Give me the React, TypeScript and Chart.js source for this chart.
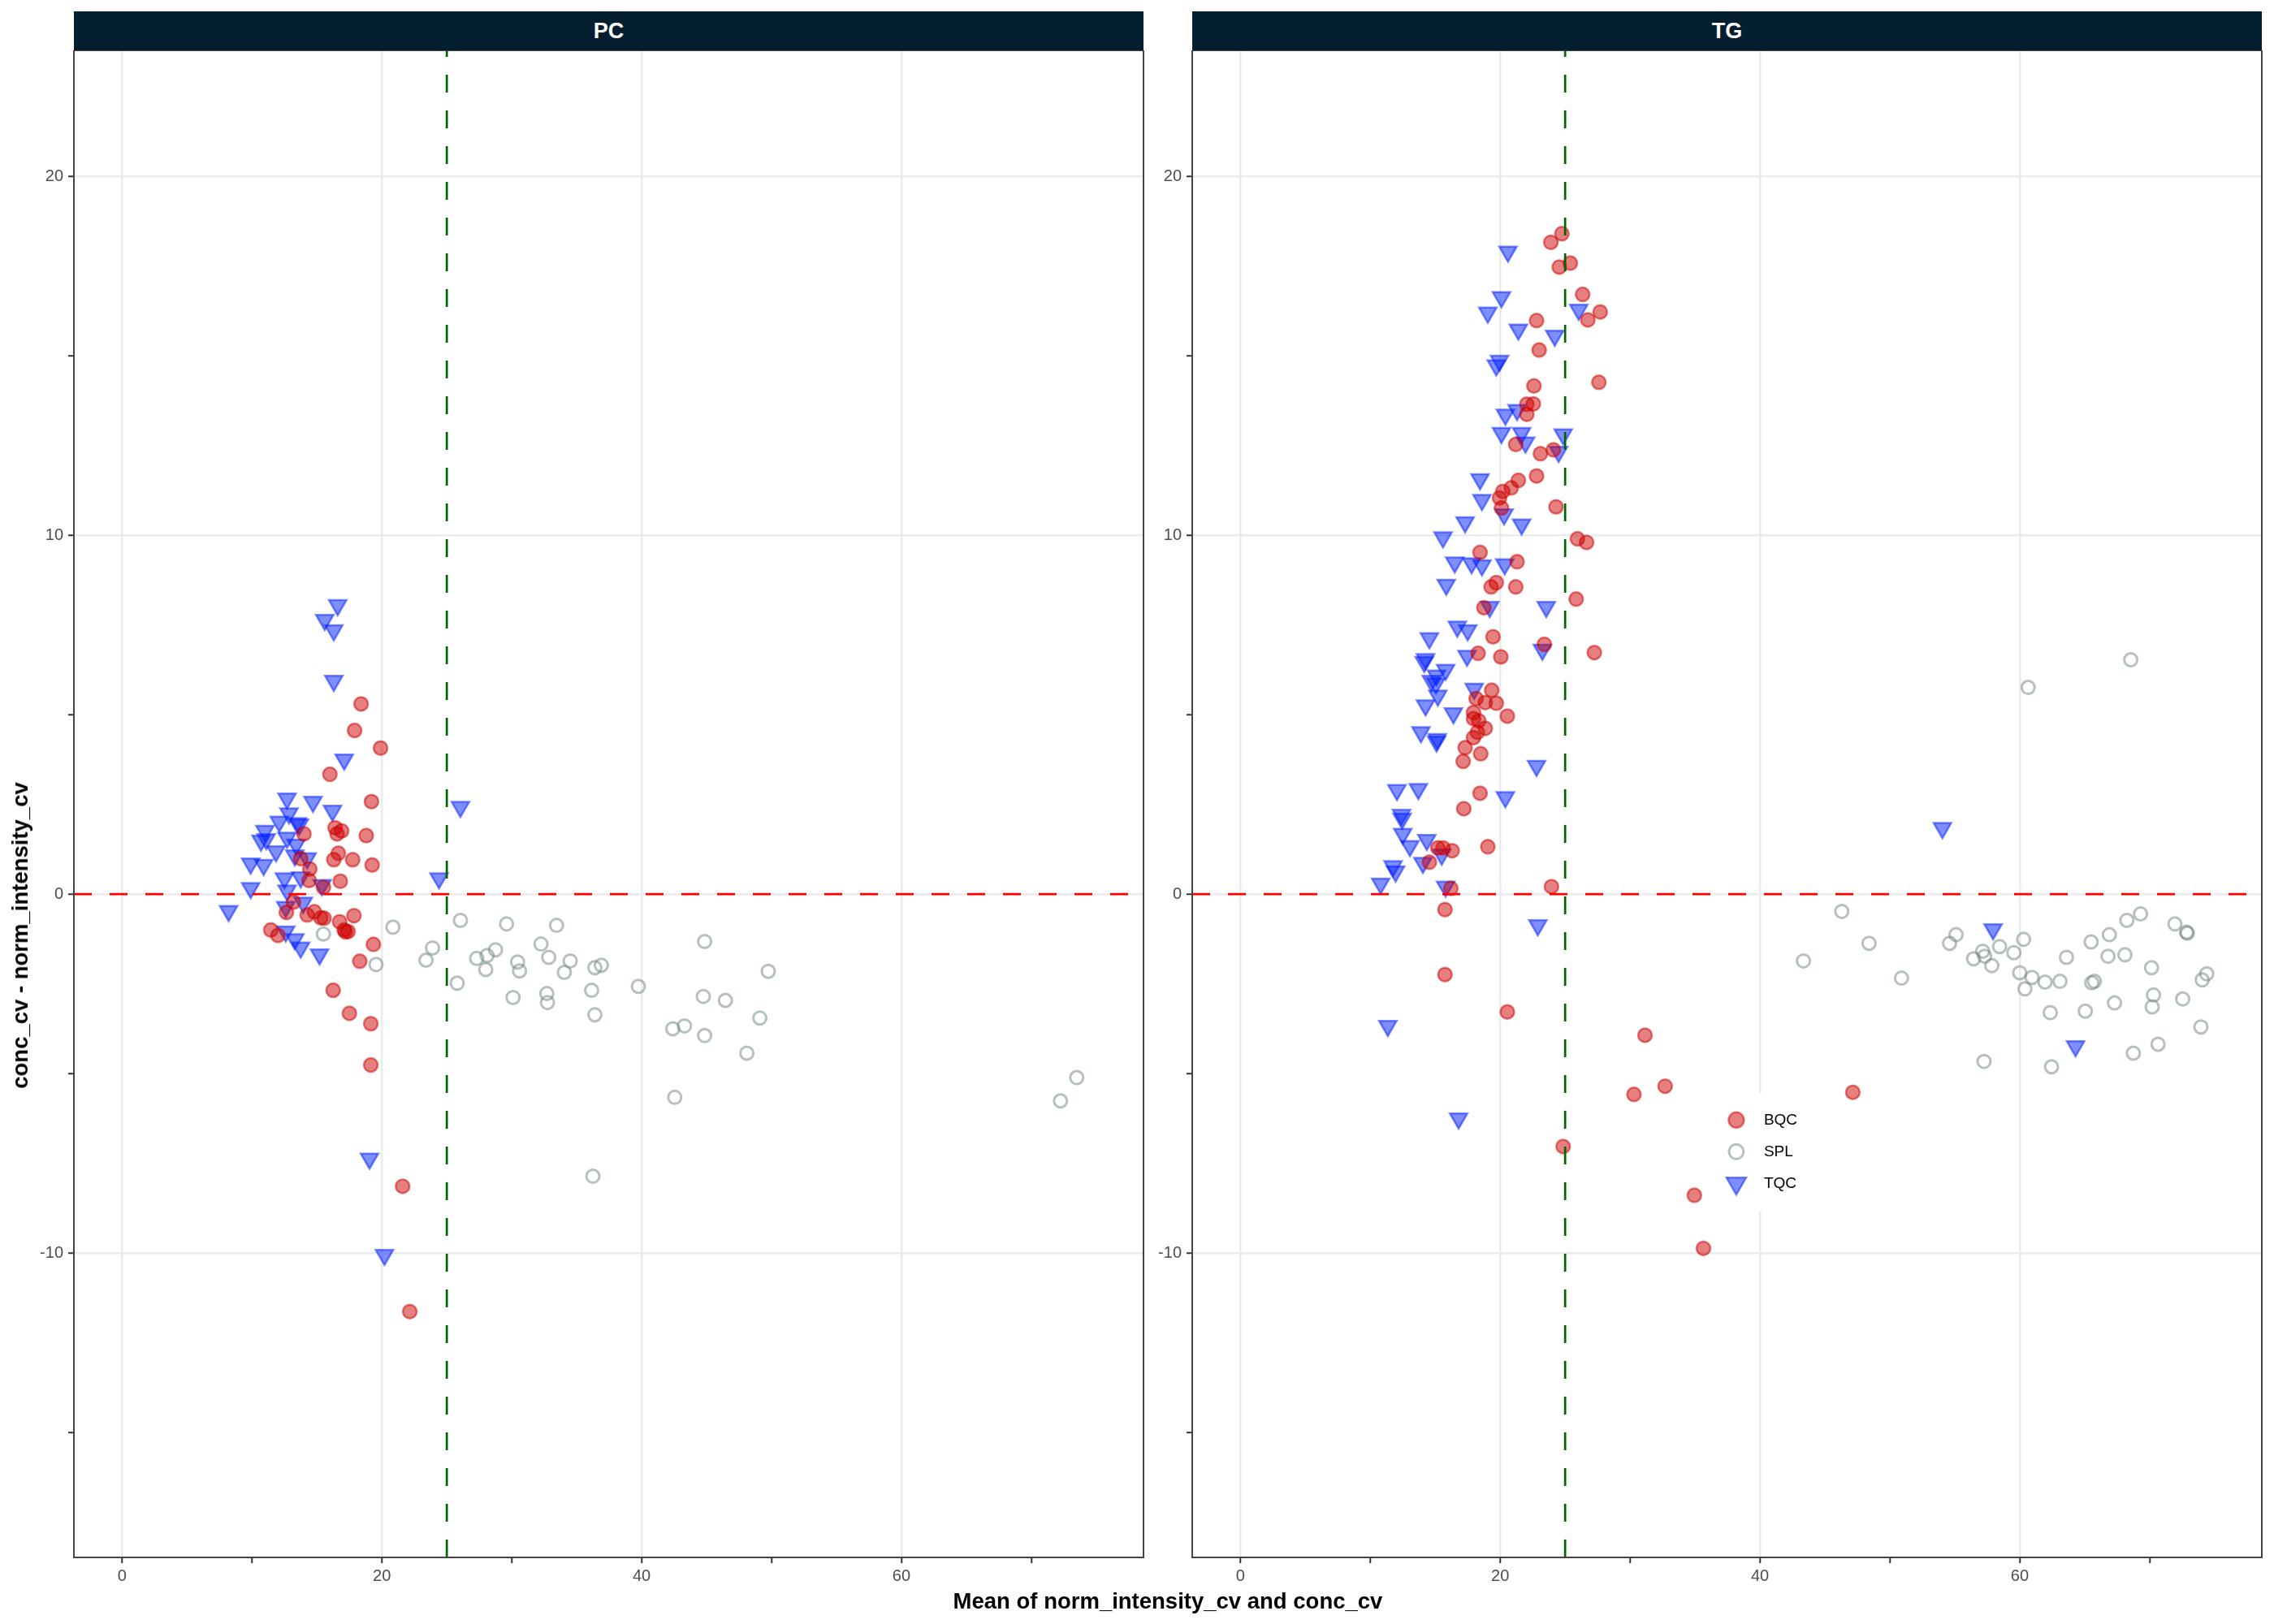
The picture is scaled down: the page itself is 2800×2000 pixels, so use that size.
import { useEffect, useRef } from 'react'
import { Chart, registerables } from 'chart.js'
import { drawPoint } from 'chart.js/helpers'

Chart.register(...registerables)

// axis limits and ticks (same for both facets)
const X_MIN = -3.71
const X_MAX = 78.64
const Y_MIN = -18.48
const Y_MAX = 23.51
const X_TICKS = [0, 10, 20, 30, 40, 50, 60, 70]
const X_MAJOR = [0, 20, 40, 60]
const Y_TICKS = [-15, -10, -5, 0, 5, 10, 15, 20]
const Y_MAJOR = [-10, 0, 10, 20]

// reference lines
const H_LINE_Y = 0
const V_LINE_X = 25

const GROUPS = ['BQC', 'SPL', 'TQC'] as const
type Group = typeof GROUPS[number]
type Pt = [number, number]

// ---- PC facet ----
const PC_BQC: Pt[] = [
  [18.4, 5.3], [17.9, 4.56], [19.9, 4.07], [16.0, 3.34], [19.2, 2.58], [14.0, 1.68], [16.4, 1.85],
  [16.9, 1.76], [16.55, 1.68], [18.8, 1.63], [16.65, 1.14], [16.3, 0.96], [17.75, 0.96], [19.25, 0.81],
  [13.75, 0.99], [14.45, 0.7], [14.4, 0.38], [16.8, 0.36], [15.5, 0.19], [13.2, -0.22], [12.65, -0.51],
  [14.25, -0.58], [14.8, -0.49], [15.3, -0.66], [15.55, -0.67], [17.85, -0.6], [16.75, -0.77],
  [17.1, -1.0], [17.2, -1.05], [17.4, -1.04], [11.45, -1.0], [12.0, -1.15], [19.35, -1.4], [18.3, -1.87],
  [16.25, -2.68], [17.5, -3.32], [19.15, -3.61], [19.15, -4.76], [21.6, -8.14], [22.15, -11.63],
]
const PC_SPL: Pt[] = [
  [15.5, -1.11], [20.85, -0.92], [19.55, -1.96], [26.05, -0.73], [23.9, -1.5], [23.4, -1.84],
  [25.8, -2.48], [27.3, -1.79], [28.1, -1.71], [28.75, -1.55], [28.0, -2.1], [29.6, -0.83],
  [33.45, -0.87], [32.25, -1.39], [30.45, -1.89], [30.6, -2.14], [32.85, -1.76], [34.5, -1.86],
  [34.05, -2.18], [36.4, -2.05], [36.9, -1.98], [30.1, -2.88], [32.7, -2.77], [32.75, -3.02],
  [36.15, -2.68], [36.4, -3.36], [39.75, -2.57], [44.85, -1.32], [49.75, -2.15], [44.75, -2.85],
  [46.45, -2.96], [49.1, -3.45], [42.4, -3.75], [43.3, -3.67], [44.85, -3.94], [48.1, -4.43],
  [42.55, -5.66], [36.25, -7.86], [73.5, -5.11], [72.25, -5.76],
]
const PC_TQC: Pt[] = [
  [16.6, 8.05], [15.6, 7.64], [16.3, 7.35], [16.3, 5.94], [17.1, 3.75], [12.7, 2.66], [14.7, 2.57],
  [16.2, 2.32], [12.85, 2.25], [12.1, 2.02], [13.5, 1.98], [13.65, 1.94], [11.0, 1.76], [10.7, 1.49],
  [11.1, 1.53], [12.7, 1.57], [11.85, 1.19], [13.4, 1.38], [13.3, 1.08], [14.25, 1.0], [9.9, 0.85],
  [10.9, 0.81], [12.5, 0.44], [13.75, 0.47], [15.4, 0.25], [9.9, 0.17], [12.7, 0.1], [24.4, 0.44],
  [26.05, 2.43], [8.2, -0.47], [12.6, -0.36], [13.95, -0.24], [12.6, -1.04], [13.3, -1.26],
  [13.75, -1.49], [15.2, -1.68], [19.05, -7.37], [20.2, -10.05],
]

// ---- TG facet ----
const TG_BQC: Pt[] = [
  [24.75, 18.4], [23.9, 18.16], [25.4, 17.58], [24.55, 17.47], [26.35, 16.71], [27.7, 16.22],
  [26.75, 16.0], [22.8, 15.98], [23.0, 15.16], [27.6, 14.26], [22.6, 14.16], [22.55, 13.66],
  [22.05, 13.65], [22.05, 13.37], [21.2, 12.53], [23.1, 12.27], [24.1, 12.38], [21.4, 11.53],
  [22.8, 11.65], [20.85, 11.32], [20.2, 11.22], [19.95, 11.04], [20.1, 10.76], [24.3, 10.79],
  [25.95, 9.9], [26.65, 9.8], [18.45, 9.52], [21.3, 9.26], [19.7, 8.68], [19.3, 8.56], [21.2, 8.56],
  [25.85, 8.22], [18.75, 7.98], [19.45, 7.17], [23.4, 6.96], [27.25, 6.73], [18.3, 6.71], [20.05, 6.61],
  [19.35, 5.68], [18.15, 5.45], [18.85, 5.34], [19.7, 5.32], [17.95, 5.06], [20.55, 4.96],
  [17.95, 4.89], [18.35, 4.83], [18.85, 4.62], [18.25, 4.51], [17.95, 4.36], [17.3, 4.08],
  [18.5, 3.91], [17.15, 3.7], [18.45, 2.81], [17.2, 2.38], [15.2, 1.29], [15.6, 1.29], [16.3, 1.21],
  [19.05, 1.32], [14.55, 0.89], [16.2, 0.16], [23.95, 0.21], [15.75, -0.43], [15.75, -2.24],
  [20.55, -3.28], [24.85, -7.03], [31.15, -3.93], [32.7, -5.35], [30.3, -5.58], [47.15, -5.52],
  [34.95, -8.39], [35.65, -9.87],
]
const TG_SPL: Pt[] = [
  [46.3, -0.48], [48.4, -1.37], [43.35, -1.86], [50.9, -2.34], [54.6, -1.37], [55.1, -1.13],
  [58.45, -1.46], [57.15, -1.59], [56.45, -1.8], [57.3, -1.73], [57.85, -1.99], [57.25, -4.66],
  [60.65, 5.76], [68.55, 6.53], [60.3, -1.26], [59.55, -1.63], [60.0, -2.19], [60.95, -2.32],
  [60.4, -2.64], [61.95, -2.45], [63.1, -2.43], [63.6, -1.76], [65.5, -1.33], [66.9, -1.13],
  [68.25, -0.73], [69.3, -0.55], [66.8, -1.73], [68.1, -1.69], [71.95, -0.83], [72.85, -1.06],
  [72.9, -1.09], [70.15, -2.05], [65.55, -2.47], [65.75, -2.43], [74.4, -2.22], [74.05, -2.39],
  [62.35, -3.3], [65.05, -3.26], [67.3, -3.03], [70.3, -2.81], [70.2, -3.14], [72.55, -2.92],
  [73.95, -3.7], [62.45, -4.81], [68.75, -4.43], [70.65, -4.18],
]
const TG_TQC: Pt[] = [
  [20.6, 17.9], [20.1, 16.63], [19.05, 16.2], [26.05, 16.28], [21.4, 15.73], [24.2, 15.56],
  [19.95, 14.86], [19.7, 14.73], [20.4, 13.36], [21.3, 13.49], [20.1, 12.85], [21.65, 12.85],
  [21.95, 12.58], [24.85, 12.81], [24.5, 12.32], [18.45, 11.56], [18.6, 10.98], [20.3, 10.58],
  [21.65, 10.3], [17.3, 10.36], [15.6, 9.94], [16.5, 9.24], [17.8, 9.22], [18.6, 9.16], [20.35, 9.19],
  [15.85, 8.62], [19.2, 8.0], [23.55, 8.0], [16.7, 7.45], [17.5, 7.35], [14.55, 7.13], [23.25, 6.81],
  [17.45, 6.64], [14.25, 6.55], [14.15, 6.47], [15.8, 6.25], [15.1, 6.09], [14.7, 5.94], [15.05, 5.87],
  [15.2, 5.53], [18.0, 5.72], [14.25, 5.26], [16.4, 5.04], [13.9, 4.51], [15.1, 4.25], [15.15, 4.32],
  [22.8, 3.57], [12.05, 2.9], [13.7, 2.93], [20.4, 2.7], [12.4, 2.21], [12.45, 2.1], [12.5, 1.68],
  [14.35, 1.51], [13.05, 1.34], [15.5, 1.1], [14.05, 0.87], [11.75, 0.78], [11.95, 0.63], [10.8, 0.29],
  [15.8, 0.21], [22.9, -0.87], [11.35, -3.67], [16.8, -6.25], [54.05, 1.84], [57.95, -0.98],
  [64.3, -4.24],
]

const FACETS: { name: string; data: Record<Group, Pt[]>; legend: boolean }[] = [
  { name: 'PC', data: { BQC: PC_BQC, SPL: PC_SPL, TQC: PC_TQC }, legend: false },
  { name: 'TG', data: { BQC: TG_BQC, SPL: TG_SPL, TQC: TG_TQC }, legend: true },
]

const FONT = '"Liberation Sans", Arial, Helvetica, sans-serif'

const STYLE: Record<Group, { pointStyle: string; rotation: number; radius: number; legendRadius: number; fill: string; stroke: string; borderWidth: number }> = {
  BQC: { pointStyle: 'circle', rotation: 0, radius: 8.5, legendRadius: 9.5, fill: 'rgba(205,0,0,0.5)', stroke: 'rgba(205,0,0,0.5)', borderWidth: 2.5 },
  SPL: { pointStyle: 'circle', rotation: 0, radius: 8, legendRadius: 9, fill: 'rgba(0,0,0,0)', stroke: 'rgba(110,130,130,0.5)', borderWidth: 3 },
  TQC: { pointStyle: 'triangle', rotation: 180, radius: 12.5, legendRadius: 14, fill: 'rgba(0,30,255,0.5)', stroke: 'rgba(0,30,255,0.5)', borderWidth: 2.5 },
}

// legend box, as fraction of the TG panel
const LEGEND_AT = { x: 0.495, y: 0.692 }

const panelBorder = {
  id: 'panelBorder',
  afterDraw(chart: Chart) {
    const { ctx, chartArea } = chart
    ctx.save()
    ctx.strokeStyle = '#444444'
    ctx.lineWidth = 2
    ctx.strokeRect(chartArea.left, chartArea.top, chartArea.right - chartArea.left, chartArea.bottom - chartArea.top)
    ctx.restore()
  },
}

const insideLegend = {
  id: 'insideLegend',
  afterDraw(chart: Chart) {
    const { ctx, chartArea } = chart
    const left = chartArea.left + LEGEND_AT.x * (chartArea.right - chartArea.left)
    const top = chartArea.top + LEGEND_AT.y * (chartArea.bottom - chartArea.top)
    ctx.save()
    ctx.fillStyle = '#ffffff'
    ctx.fillRect(left, top, 102, 145)
    GROUPS.forEach((g, i) => {
      const st = STYLE[g]
      const cy = top + 33 + i * 39
      ctx.fillStyle = st.fill
      ctx.strokeStyle = st.stroke
      ctx.lineWidth = st.borderWidth
      drawPoint(ctx, { pointStyle: st.pointStyle as any, rotation: st.rotation, radius: st.legendRadius, borderWidth: st.borderWidth }, left + 18, cy)
      ctx.fillStyle = '#000000'
      ctx.font = `19px ${FONT}`
      ctx.textBaseline = 'middle'
      ctx.textAlign = 'left'
      ctx.fillText(g, left + 52, cy)
    })
    ctx.restore()
  },
}

function FacetPanel({ facet, left }: { facet: typeof FACETS[number]; left: number }) {
  const canvasRef = useRef<HTMLCanvasElement>(null)

  useEffect(() => {
    if (!canvasRef.current) return
    const tickFont = { family: FONT, size: 20 }
    const chart = new Chart(canvasRef.current, {
      type: 'scatter',
      data: {
        datasets: [
          {
            label: 'hline',
            data: [{ x: X_MIN, y: H_LINE_Y }, { x: X_MAX, y: H_LINE_Y }],
            showLine: true,
            borderColor: '#ff0000',
            borderWidth: 2.7,
            borderDash: [22, 22],
            pointRadius: 0,
          },
          {
            label: 'vline',
            data: [{ x: V_LINE_X, y: Y_MIN }, { x: V_LINE_X, y: Y_MAX }],
            showLine: true,
            borderColor: '#006400',
            borderWidth: 2.7,
            borderDash: [22, 22],
            pointRadius: 0,
          },
          ...GROUPS.map(g => ({
            label: g,
            data: facet.data[g].map(([x, y]) => ({ x, y })),
            pointStyle: STYLE[g].pointStyle as any,
            rotation: STYLE[g].rotation,
            pointRadius: STYLE[g].radius,
            pointBackgroundColor: STYLE[g].fill,
            pointBorderColor: STYLE[g].stroke,
            pointBorderWidth: STYLE[g].borderWidth,
          })),
        ],
      },
      options: {
        responsive: true,
        maintainAspectRatio: false,
        animation: false,
        layout: { autoPadding: false, padding: { top: 0, right: 10, bottom: 0, left: 0 } },
        plugins: { legend: { display: false }, tooltip: { enabled: false } },
        scales: {
          x: {
            type: 'linear',
            min: X_MIN,
            max: X_MAX,
            afterBuildTicks: (s: any) => { s.ticks = X_TICKS.map(v => ({ value: v })) },
            afterFit: (s: any) => { s.height = 40; s.paddingLeft = 0; s.paddingRight = 0 },
            ticks: {
              autoSkip: false,
              maxRotation: 0,
              padding: 4,
              color: '#4d4d4d',
              font: tickFont,
              callback: (v: any) => (X_MAJOR.includes(Number(v)) ? String(v) : ''),
            },
            grid: {
              color: (c: any) => (X_MAJOR.includes(c.tick?.value) ? '#ebebeb' : 'rgba(0,0,0,0)'),
              lineWidth: 2.5,
              tickColor: '#333333',
              tickWidth: 2,
              tickLength: 7,
            },
            border: { display: false },
          },
          y: {
            type: 'linear',
            min: Y_MIN,
            max: Y_MAX,
            afterBuildTicks: (s: any) => { s.ticks = Y_TICKS.map(v => ({ value: v })) },
            afterFit: (s: any) => { s.width = 91; s.paddingTop = 0; s.paddingBottom = 0 },
            ticks: {
              autoSkip: false,
              padding: 6,
              color: '#4d4d4d',
              font: tickFont,
              callback: (v: any) => (Y_MAJOR.includes(Number(v)) ? String(v) : ''),
            },
            grid: {
              color: (c: any) => (Y_MAJOR.includes(c.tick?.value) ? '#ebebeb' : 'rgba(0,0,0,0)'),
              lineWidth: 2.5,
              tickColor: '#333333',
              tickWidth: 2,
              tickLength: 7,
            },
            border: { display: false },
          },
        },
      },
      plugins: facet.legend ? [panelBorder, insideLegend] : [panelBorder],
    } as any)
    return () => chart.destroy()
  }, [facet])

  return (
    <>
      <div
        style={{
          position: 'absolute', left: left + 91, top: 14, width: 1317, height: 48,
          background: '#021e2f', color: '#ffffff', fontFamily: FONT, fontWeight: 'bold', fontSize: 27,
          display: 'flex', alignItems: 'center', justifyContent: 'center',
        }}
      >
        {facet.name}
      </div>
      <div style={{ position: 'absolute', left, top: 62, width: 1418, height: 1896 }}>
        <canvas ref={canvasRef} />
      </div>
    </>
  )
}

export default function App() {
  return (
    <div style={{ position: 'absolute', left: 0, top: 0, width: 2800, height: 2000, background: '#ffffff', overflow: 'hidden' }}>
      {FACETS.map((f, i) => (
        <FacetPanel key={f.name} facet={f} left={i === 0 ? 0 : 1377} />
      ))}
      <div
        style={{
          position: 'absolute', left: 25, top: 1152, transform: 'translate(-50%, -50%) rotate(-90deg)',
          whiteSpace: 'nowrap', fontFamily: FONT, fontWeight: 'bold', fontSize: 27.5, color: '#000',
        }}
      >
        conc_cv - norm_intensity_cv
      </div>
      <div
        style={{
          position: 'absolute', left: 1438, top: 1972, transform: 'translate(-50%, -50%)',
          whiteSpace: 'nowrap', fontFamily: FONT, fontWeight: 'bold', fontSize: 27.5, color: '#000',
        }}
      >
        Mean of norm_intensity_cv and conc_cv
      </div>
    </div>
  )
}
